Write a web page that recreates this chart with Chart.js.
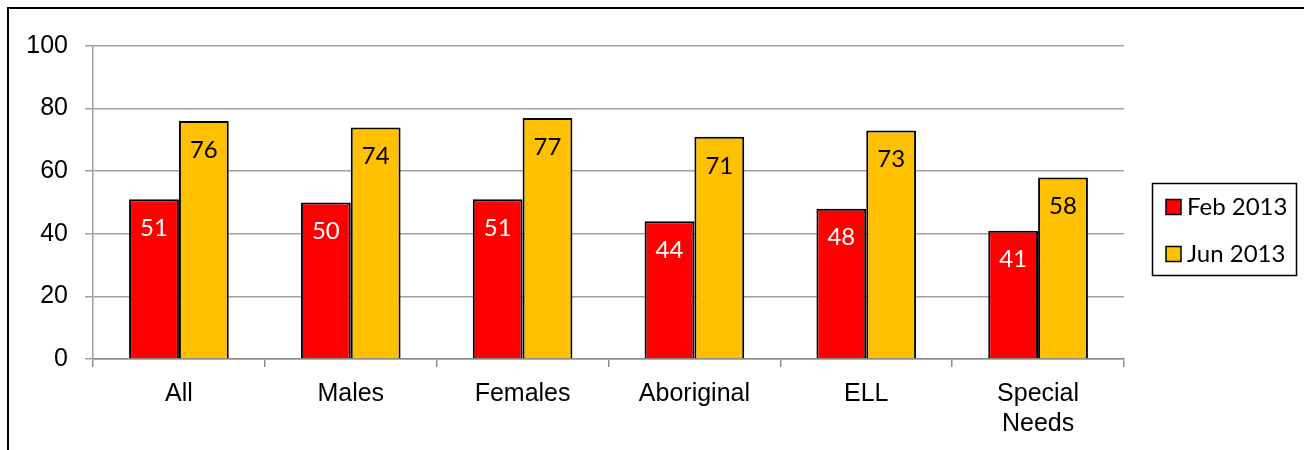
<!DOCTYPE html>
<html>
<head>
<meta charset="utf-8">
<script src="https://cdn.jsdelivr.net/npm/chart.js@4.4.1/dist/chart.umd.min.js"></script>
<style>
html,body{margin:0;padding:0;background:#fff;}
#wrap{width:1304px;height:450px;position:relative;}
</style>
</head>
<body>
<div id="wrap"><canvas id="c" width="1304" height="450"></canvas></div>
<script>
const categories = ['All', 'Males', 'Females', 'Aboriginal', 'ELL', ['Special', 'Needs']];
const seriesNames = ['Feb 2013', 'Jun 2013'];
const feb2013 = [51, 50, 51, 44, 48, 41];
const jun2013 = [76, 74, 77, 71, 73, 58];
const seriesColors = ['#ff0000', '#ffc000'];
const labelColors = ['#ffffff', '#000000'];
const yTicks = [0, 20, 40, 60, 80, 100];

const frameLegendPlugin = {
  id: 'frameLegend',
  beforeDraw(chart) {
    const ctx = chart.ctx;
    ctx.save();
    ctx.fillStyle = '#ffffff';
    ctx.fillRect(0, 0, chart.width, chart.height);
    ctx.strokeStyle = '#000000';
    ctx.lineWidth = 2;
    ctx.beginPath();
    ctx.moveTo(8, chart.height + 5);
    ctx.lineTo(8, 8);
    ctx.lineTo(chart.width + 5, 8);
    ctx.stroke();
    ctx.restore();
  },
  afterDraw(chart) {
    const ctx = chart.ctx;
    ctx.save();
    ctx.strokeStyle = '#000000';
    ctx.lineWidth = 1.5;
    ctx.strokeRect(1152.5, 183.5, 144, 92);
    ctx.font = '24px Lato';
    ctx.textBaseline = 'middle';
    ctx.textAlign = 'left';
    chart.data.datasets.forEach((ds, i) => {
      const cy = 207 + i * 47;
      ctx.fillStyle = ds.backgroundColor;
      ctx.fillRect(1166, cy - 7.5, 15, 15);
      ctx.strokeStyle = '#000000';
      ctx.lineWidth = 1.5;
      ctx.strokeRect(1166, cy - 7.5, 15, 15);
      ctx.fillStyle = '#000000';
      ctx.fillText(ds.label, 1187, cy);
    });
    ctx.restore();
  },
  afterDatasetsDraw(chart) {
    const ctx = chart.ctx;
    ctx.save();
    ctx.font = '24px Lato';
    ctx.textAlign = 'center';
    ctx.textBaseline = 'middle';
    chart.data.datasets.forEach((ds, i) => {
      const meta = chart.getDatasetMeta(i);
      meta.data.forEach((el, j) => {
        ctx.fillStyle = labelColors[i];
        ctx.fillText(String(ds.data[j]), el.x, el.y + 29);
      });
    });
    ctx.restore();
  }
};

new Chart(document.getElementById('c'), {
  type: 'bar',
  data: {
    labels: categories,
    datasets: [
      { label: seriesNames[0], data: feb2013, backgroundColor: seriesColors[0], borderColor: '#000000', borderWidth: 2, categoryPercentage: 0.58, barPercentage: 1 },
      { label: seriesNames[1], data: jun2013, backgroundColor: seriesColors[1], borderColor: '#000000', borderWidth: 2, categoryPercentage: 0.58, barPercentage: 1 }
    ]
  },
  options: {
    responsive: false,
    animation: false,
    devicePixelRatio: 1,
    layout: { padding: { top: 46, right: 180, left: 0, bottom: 0 } },
    plugins: { legend: { display: false }, tooltip: { enabled: false } },
    scales: {
      x: {
        afterFit(scale) { scale.height = 91; },
        grid: { display: true, drawOnChartArea: false, offset: true, color: '#8c8c8c', lineWidth: 1.5, tickLength: 8 },
        border: { display: true, color: '#8c8c8c', width: 1.5 },
        ticks: { color: '#000000', font: { family: 'Liberation Sans', size: 25, lineHeight: 1.2 }, padding: 12, maxRotation: 0, autoSkip: false }
      },
      y: {
        min: 0, max: 100,
        afterFit(scale) { scale.width = 93; },
        afterBuildTicks(scale) { scale.ticks = yTicks.map(v => ({ value: v })); },
        grid: { color: '#a0a0a0', lineWidth: 1.5, tickLength: 8 },
        border: { display: true, color: '#a0a0a0', width: 1.5 },
        ticks: { color: '#000000', font: { family: 'Liberation Sans', size: 25 }, padding: 17 }
      }
    }
  },
  plugins: [frameLegendPlugin]
});
</script>
</body>
</html>
